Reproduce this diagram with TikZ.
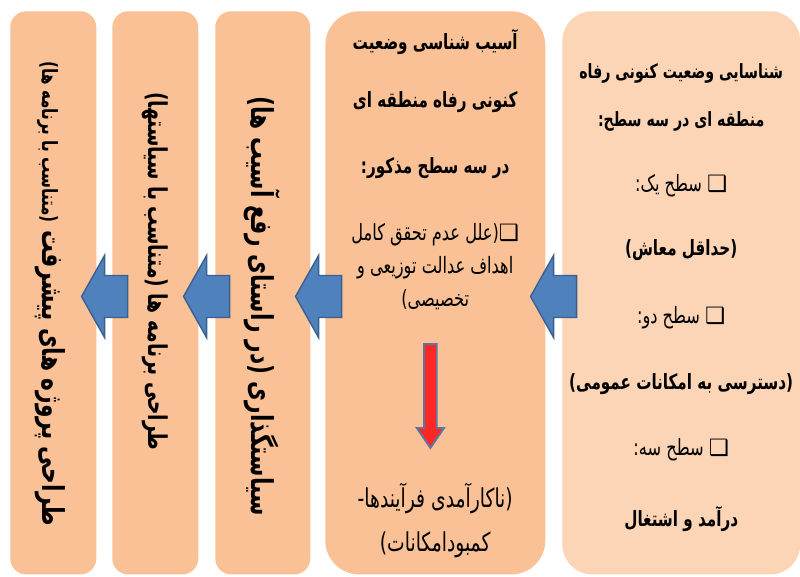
\documentclass[tikz,border=0pt]{standalone}
\usepackage{fontspec}
\usetikzlibrary{calc}
\newfontfamily\fa[Script=Arabic,FakeStretch=0.72]{DejaVu Sans}
\newfontfamily\sym{DejaVu Sans}
\TeXXeTstate=1
\newcommand{\rtl}[1]{\beginR #1\endR}
\newcommand{\chk}{{\sym\bfseries\fontsize{16}{18}\selectfont ❑}}
\definecolor{peach}{HTML}{F9C195}
\definecolor{lightpeach}{HTML}{FBD5B6}
\definecolor{arrowblue}{HTML}{4F81BD}
\definecolor{arrowedge}{HTML}{3B6090}
\definecolor{arrowred}{HTML}{FF2626}

\begin{document}
\begin{tikzpicture}[
  box/.style={fill=peach, anchor=north west, inner sep=0pt, minimum height=14.08cm},
  bold/.style={font=\fa\bfseries\fontsize{15}{17}\selectfont},
  title/.style={font=\fa\bfseries\fontsize{14}{16}\selectfont},
  plain/.style={font=\fa\fontsize{16}{18}\selectfont},
  thin/.style={font=\fa\fontsize{18.5}{21}\selectfont},
  side/.style={rotate=-90, font=\fa\bfseries\fontsize{21.5}{24}\selectfont},
  blockarrow/.style={fill=arrowblue, draw=arrowedge, line width=1pt, line join=miter},
  redarrow/.style={fill=arrowred, draw=arrowedge!85, line width=1.3pt, line join=miter}
]
\useasboundingbox (0,0) rectangle (20,14.4);
\def\ytop{14.125} % common top edge of the columns

% columns, right to left
\node[box, fill=lightpeach, rounded corners=0.75cm, minimum width=5.95cm] (box1) at (14.05,\ytop) {};
\node[box, rounded corners=0.85cm, minimum width=5.5cm] (box2) at (8.125,\ytop) {};
\node[box, rounded corners=0.4cm, minimum width=2.375cm] (box3) at (5.375,\ytop) {};
\node[box, rounded corners=0.4cm, minimum width=2.15cm] (box4) at (2.8,\ytop) {};
\node[box, rounded corners=0.4cm, minimum width=2.15cm] (box5) at (0.25,\ytop) {};

% first column
\node[title] (t11) at (17.03,12.575) {\rtl{شناسایی وضعیت کنونی رفاه}};
\node[title] (t12) at (17.03,11.375) {\rtl{منطقه ای در سه سطح:}};
\node[plain] (t13) at (17.03,9.75) {\rtl{\chk\ سطح یک:}};
\node[bold] (t14) at (17.03,8.15) {\rtl{(حداقل معاش)}};
\node[plain] (t15) at (17.03,6.45) {\rtl{\chk\ سطح دو:}};
\node[bold] (t16) at (17.03,4.8) {\rtl{(دسترسی به امکانات عمومی)}};
\node[plain] (t17) at (17.03,3.15) {\rtl{\chk\ سطح سه:}};
\node[bold] (t18) at (17.03,1.425) {\rtl{درآمد و اشتغال}};

% second column
\node[bold] (t21) at (10.88,13.35) {\rtl{آسیب شناسی وضعیت}};
\node[bold] (t22) at (10.88,11.85) {\rtl{کنونی رفاه منطقه ای}};
\node[bold] (t23) at (10.88,10.2) {\rtl{در سه سطح مذکور:}};
\node[plain] (t24) at (10.88,8.525) {\rtl{\chk(علل عدم تحقق کامل}};
\node[plain] (t25) at (10.88,7.7) {\rtl{اهداف عدالت توزیعی و}};
\node[plain] (t26) at (10.88,6.9) {\rtl{تخصیصی)}};
\node[thin] (t27) at (10.88,1.95) {\rtl{(ناکارآمدی فرآیندها-}};
\node[thin] (t28) at (10.88,0.775) {\rtl{کمبودامکانات)}};

% red arrow between the two parts
\coordinate (rtop) at (10.76,5.8);
\coordinate (rtip) at (10.76,3.2);
\draw[redarrow] ($(rtop)+(-0.16,0)$) -- ++(0.32,0) -- ++(0,-2.1) -- ++(0.18,0)
  -- (rtip) -- ++(-0.34,0.5) -- ++(0.18,0) -- cycle;

% rotated columns
\node[side] (t3) at (6.55,6.75) {\rtl{سیاستگذاری (در راستای رفع آسیب ها)}};
\node[side, font=\fa\bfseries\fontsize{18.5}{21}\selectfont] (t4) at (3.875,7.61)
  {\rtl{طراحی برنامه ها (متناسب با سیاستها)}};
\node[side] (t5) at (1.25,7.05)
  {\rtl{طراحی پروژه های پیشرفت {\fontsize{15}{17}\selectfont(متناسب با برنامه ها)}}};

% blue arrows, tip just inside the next column
\foreach \b in {2,...,5}
  \draw[blockarrow] ($(box\b.east)+(-0.375,-0.09)$) -- ++(0.575,1.025) -- ++(0,-0.5)
    -- ++(0.575,0) -- ++(0,-1.05) -- ++(-0.575,0) -- ++(0,-0.5) -- cycle;
\end{tikzpicture}
\end{document}
